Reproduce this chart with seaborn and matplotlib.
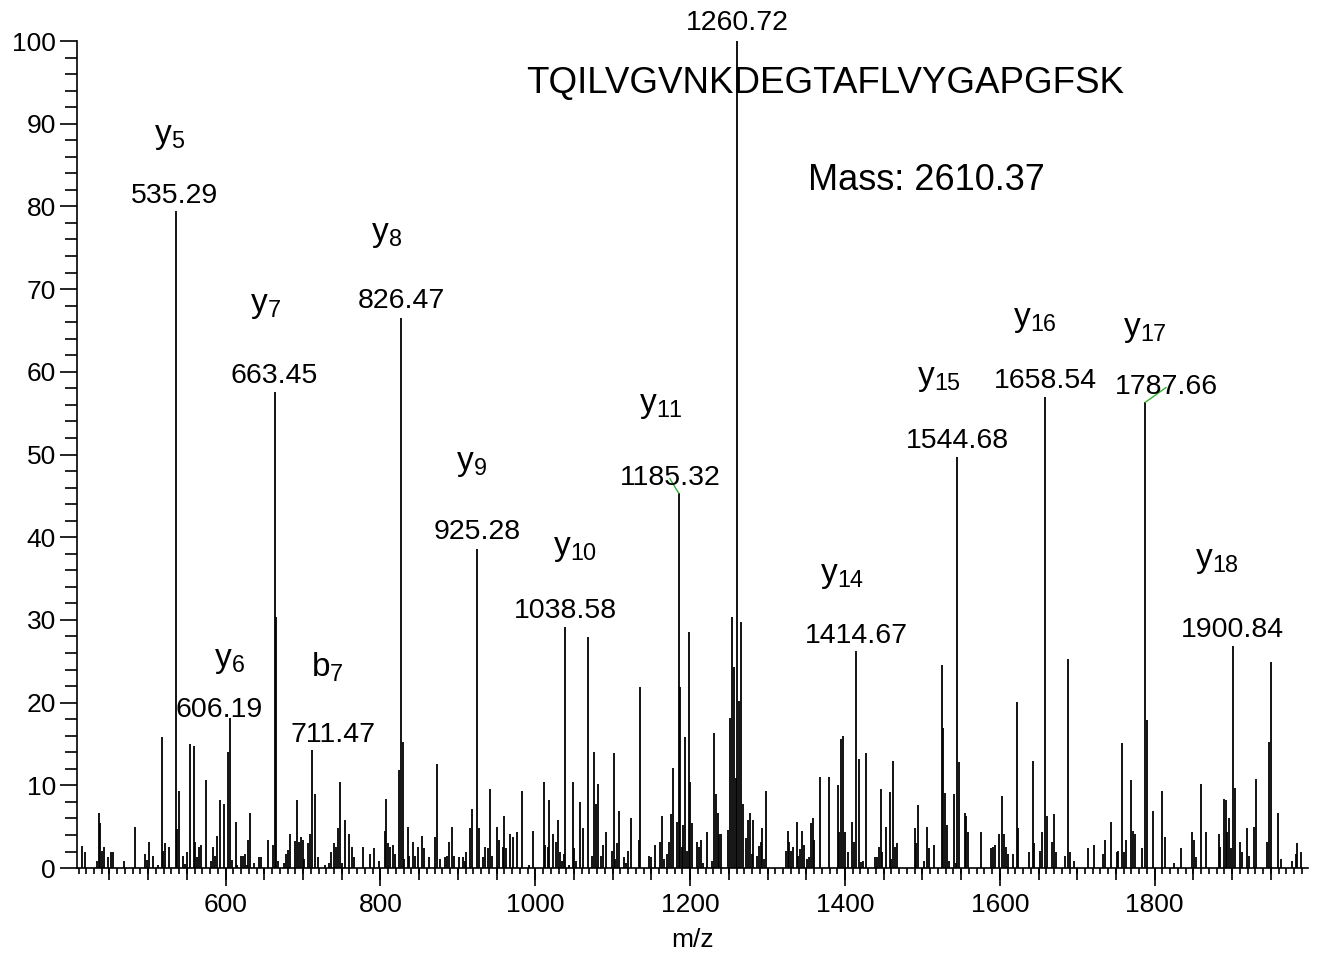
import numpy as np
import matplotlib
matplotlib.use("Agg")
import matplotlib.pyplot as plt
from matplotlib.ticker import MultipleLocator
import seaborn as sns

# === Peak list (m/z, relative intensity %) ===
mz = [
    414.9, 417.9, 433.4, 436.0, 438.1, 440.7, 443.3, 448.0, 452.3, 454.5,
    468.2, 482.5, 496.2, 498.4, 501.0, 505.7, 512.2, 517.3, 519.5, 521.6,
    526.4, 537.6, 540.2, 544.9, 547.0, 549.6, 553.9, 558.7, 560.4, 563.0,
    565.6, 567.7, 574.6, 581.5, 583.6, 586.2, 588.4, 593.1, 597.8, 603.6,
    608.4, 613.3, 615.3, 620.0, 622.3, 624.8, 627.0, 629.2, 631.8, 636.1,
    643.0, 645.6, 655.1, 660.9, 665.2, 667.8, 675.8,
    677.9, 680.5, 683.0, 690.0, 692.6, 694.7, 697.3, 699.5, 701.6, 706.3,
    708.5, 715.4, 719.7, 728.8, 733.5, 736.0, 740.4, 743.0, 745.1, 747.6,
    750.2, 754.6, 759.3, 763.6, 766.2, 777.9, 786.9, 791.6, 798.5, 805.4,
    807.6, 809.7, 812.2, 816.6, 819.2, 823.5, 828.6, 830.8, 835.1, 837.3,
    841.9, 844.1, 848.9, 853.6, 855.8, 862.6, 870.0, 872.6, 876.8, 883.8,
    885.9, 888.5, 892.8, 894.9, 901.9, 906.5, 908.7, 910.9, 915.6, 918.2,
    927.7, 932.0, 934.6, 938.8, 941.9,
    944.0, 951.0, 953.1, 957.8, 960.0, 962.6, 966.8, 971.1, 975.9, 983.3,
    992.3, 997.0, 1010.8, 1012.9, 1016.0, 1018.1, 1022.8, 1027.2, 1029.7, 1031.8,
    1034.4, 1036.6, 1043.4, 1048.2, 1050.4, 1053.0, 1057.3, 1062.0, 1068.5, 1073.7,
    1075.8, 1077.9, 1080.5, 1084.8, 1087.4, 1091.7, 1098.6, 1101.2, 1103.4, 1105.5,
    1108.0, 1115.0, 1117.1, 1119.7, 1124.1, 1133.5, 1135.6, 1147.3, 1149.4, 1154.2,
    1161.0, 1163.6, 1165.8, 1170.5, 1172.6, 1175.2, 1177.4, 1183.0, 1187.2, 1190.0,
    1191.2, 1193.3, 1195.9, 1198.1, 1200.3, 1202.8,
    1209.3, 1211.9, 1214.5, 1216.5, 1221.3, 1228.7, 1230.7, 1232.9, 1235.5, 1237.7,
    1240.3, 1249.3, 1251.9, 1254.0, 1256.2, 1258.8, 1263.5, 1265.6, 1267.8, 1272.6,
    1274.7, 1277.3, 1279.4, 1281.6, 1286.3, 1288.5, 1291.1, 1293.3, 1295.8, 1297.9,
    1323.4, 1326.0, 1328.1, 1330.7, 1332.8, 1337.6, 1339.8, 1342.3, 1344.4, 1346.6,
    1351.4, 1354.0, 1356.1, 1358.3, 1360.4, 1367.7, 1379.3, 1390.5, 1392.2, 1394.8,
    1397.4, 1399.6, 1404.4, 1409.0, 1411.2, 1417.8, 1420.2, 1422.8, 1427.6, 1438.7,
    1441.3, 1443.5, 1446.1, 1448.2, 1452.9, 1457.7, 1459.9, 1461.9, 1464.5, 1466.7,
    1490.0, 1492.2, 1494.7, 1501.6, 1506.4, 1508.5, 1515.4, 1524.9, 1527.0, 1529.6,
    1531.7, 1533.9, 1540.8, 1542.9, 1547.2, 1554.5, 1556.7, 1559.3, 1575.2, 1589.0,
    1591.1, 1593.7, 1598.5, 1603.2, 1605.4, 1607.5, 1610.1, 1617.0, 1621.7, 1623.9,
    1637.6, 1642.4, 1644.6, 1651.4, 1654.2, 1660.8, 1667.8, 1669.9, 1672.5, 1684.1,
    1688.5, 1691.1, 1695.8, 1714.3, 1721.2, 1732.8, 1735.4,
    1744.0, 1750.9, 1753.1, 1757.7, 1760.3, 1762.5, 1769.4, 1771.6, 1774.1, 1783.2,
    1790.2, 1797.4, 1809.1, 1813.8, 1825.5, 1834.5, 1848.2, 1850.4, 1853.0, 1859.9,
    1866.8, 1882.8, 1885.0, 1889.6, 1891.8, 1894.0, 1896.6, 1898.5, 1903.2, 1910.3,
    1912.5, 1919.3, 1921.9, 1928.9, 1931.0, 1944.8, 1947.0, 1949.6, 1959.0, 1963.3,
    1977.1, 1981.9, 1984.0, 1988.8,
]
intensity = [
    2.7, 1.9, 0.8, 6.6, 5.4, 2.1, 2.5, 1.3, 1.9, 1.9,
    0.85, 5.0, 1.7, 1.0, 3.2, 1.5, 0.4, 15.8, 2.1, 3.0,
    2.6, 4.7, 9.3, 1.5, 0.5, 1.9, 15.0, 14.7, 3.2, 1.3,
    2.6, 2.8, 10.6, 0.85, 2.6, 1.5, 3.9, 8.2, 7.8, 14.0,
    1.0, 5.6, 0.4, 1.5, 1.5, 1.7, 0.4, 3.4, 6.6, 0.6,
    1.3, 1.3, 3.4, 2.8, 30.3, 0.8, 0.6,
    1.7, 2.2, 4.1, 3.3, 8.2, 3.2, 3.7, 3.4, 1.1, 3.0,
    4.1, 8.9, 1.3, 0.4, 0.6, 1.9, 3.0, 2.5, 4.8, 10.4,
    0.6, 5.8, 4.1, 2.6, 1.3, 2.6, 1.7, 2.4, 0.85, 4.5,
    8.4, 3.0, 2.6, 2.8, 1.7, 11.9, 15.3, 1.1, 5.0, 1.5,
    3.2, 1.5, 2.6, 3.9, 2.4, 1.3, 3.7, 12.6, 1.1, 1.3,
    1.5, 3.2, 5.0, 1.5, 1.3, 1.3, 0.85, 1.9, 4.8, 7.1,
    4.8, 1.3, 2.6, 2.4, 9.6,
    1.5, 5.0, 3.4, 2.6, 6.3, 2.4, 4.1, 3.7, 4.4, 9.3,
    0.4, 4.5, 10.4, 2.8, 2.6, 8.2, 4.1, 3.2, 5.8, 1.9,
    0.85, 1.7, 0.4, 10.4, 2.4, 0.85, 8.0, 4.8, 27.9, 1.5,
    14.0, 7.8, 10.2, 1.5, 2.8, 4.3, 2.1, 13.9, 1.1, 3.0,
    6.9, 1.3, 0.6, 2.1, 6.0, 3.4, 21.9, 1.5, 1.3, 2.8,
    3.2, 6.3, 1.1, 1.7, 3.2, 6.5, 12.1, 5.6, 21.9, 2.6,
    5.2, 15.8, 2.1, 28.5, 10.4, 5.4,
    3.2, 2.6, 3.4, 0.6, 4.3, 0.8, 16.3, 8.9, 6.7, 4.1,
    4.1, 4.6, 18.1, 30.3, 24.3, 10.9, 20.2, 29.8, 7.8, 3.6,
    5.8, 6.7, 1.7, 5.8, 1.5, 2.7, 3.2, 4.8, 1.1, 9.3,
    2.1, 4.5, 3.2, 2.1, 2.6, 5.6, 1.5, 2.3, 4.5, 2.8,
    1.1, 1.3, 5.4, 6.0, 3.4, 11.0, 11.0, 10.0, 4.3, 15.6,
    16.0, 4.3, 1.9, 5.6, 3.2, 13.2, 0.7, 0.9, 13.9, 1.3,
    1.3, 2.6, 9.6, 1.9, 5.0, 9.2, 1.1, 13.0, 2.6, 3.0,
    4.8, 3.0, 7.6, 0.85, 5.0, 2.4, 2.8, 24.5, 16.9, 9.1,
    5.2, 0.85, 8.9, 0.6, 12.8, 6.7, 6.3, 4.3, 4.3, 2.4,
    2.6, 2.8, 4.1, 8.7, 4.1, 2.6, 1.7, 1.7, 20.1, 4.8,
    1.9, 13.0, 3.0, 2.1, 4.3, 6.3, 3.2, 6.5, 1.9, 1.5,
    25.3, 1.9, 0.85, 2.4, 2.8, 1.7, 3.4,
    5.6, 1.9, 2.1, 15.1, 1.9, 3.4, 10.6, 4.5, 4.1, 2.4,
    17.9, 6.9, 9.3, 3.7, 0.6, 2.4, 4.3, 3.4, 1.3, 10.2,
    4.3, 4.1, 2.6, 8.4, 8.2, 4.3, 6.0, 2.4, 9.7, 3.2,
    1.9, 4.8, 1.5, 5.0, 10.8, 3.2, 15.3, 24.9, 6.7, 1.1,
    0.85, 1.7, 3.0, 1.9,
]

# annotated fragment ions
ion_mz = [535.29, 606.19, 663.45, 711.47, 826.47, 925.28, 1038.58,
          1185.32, 1260.72, 1414.67, 1544.68, 1658.54, 1787.66, 1900.84]
ion_int = [79.4, 18.1, 57.5, 14.3, 66.5, 38.6, 29.2,
           45.3, 100.0, 26.2, 49.7, 57.0, 56.3, 26.8]
ion_names = ["y5", "y6", "y7", "b7", "y8", "y9", "y10",
             "y11", "", "y14", "y15", "y16", "y17", "y18"]

peptide = "TQILVGVNKDEGTAFLVYGAPGFSK"
mass_text = "Mass: 2610.37"

# label placement in pixels: (dx, dy) for number, (dx, dy) for ion name
num_off = [(-1, 8), (-11, 1), (-1, 9), (21, 8), (0, 10), (0, 10), (0, 9),
           (-9, 8), (0, 11), (0, 8), (0, 9), (0, 9), (21, 8), (0, 9)]
ion_off = [(-6, 68), (-1, 51), (-9, 80), (15, 73), (-14, 77), (-6, 79), (10, 72),
           (-18, 81), (0, 0), (-14, 69), (-18, 72), (-10, 71), (0, 66), (-16, 79)]
leader = [False] * 7 + [True] + [False] * 4 + [True, False]

# === Style ===
sns.set_style("ticks")
plt.rcParams["font.family"] = ["Liberation Sans", "DejaVu Sans"]
plt.rcParams["mathtext.default"] = "regular"
for key in ["text.color", "axes.labelcolor", "xtick.color", "ytick.color", "axes.edgecolor"]:
    plt.rcParams[key] = "black"

fig = plt.figure(figsize=(13.2, 9.58), dpi=100)
ax = fig.add_axes([0.0583, 0.0939, 0.9326, 0.8633])

all_mz = np.array(mz + ion_mz)
all_int = np.array(intensity + ion_int)
ax.vlines(all_mz, 0, all_int, color="black", lw=1.3)

ax.set_xlim(408, 1998)
ax.set_ylim(0, 100)

sns.despine(ax=ax)
for s in ["left", "bottom"]:
    ax.spines[s].set_linewidth(1.2)

ax.xaxis.set_major_locator(MultipleLocator(200))
ax.xaxis.set_minor_locator(MultipleLocator(10))
ax.yaxis.set_major_locator(MultipleLocator(10))
ax.yaxis.set_minor_locator(MultipleLocator(2))
ax.tick_params(axis="x", which="major", length=13, width=1.2, labelsize=19, pad=5)
ax.tick_params(axis="x", which="minor", length=4, width=1.2)
ax.tick_params(axis="y", which="major", length=12, width=1.2, labelsize=19, pad=3)
ax.tick_params(axis="y", which="minor", length=8.4, width=1.2)

# medium ticks every 50
sec = ax.secondary_xaxis("bottom")
sec.set_xticks(np.arange(450, 2000, 50))
sec.tick_params(length=8.4, width=1.2, labelbottom=False)
sec.spines["bottom"].set_visible(False)

ax.set_xlabel("m/z", fontsize=19, labelpad=8)

# === Annotations ===
for i in range(len(ion_mz)):
    x, y = ion_mz[i], ion_int[i]
    dx, dy = num_off[i]
    arrow = dict(arrowstyle="-", color="#2db32d", lw=1.0, shrinkA=0, shrinkB=0) if leader[i] else None
    ax.annotate(f"{x:.2f}", xy=(x, y), xytext=(dx, dy), textcoords="offset pixels",
                ha="center", va="baseline", fontsize=20.5, arrowprops=arrow,
                annotation_clip=False)
    name = ion_names[i]
    if name:
        lab = r"$\mathdefault{" + name[0] + "_{" + name[1:] + "}}$"
        idx, idy = ion_off[i]
        ax.annotate(lab, xy=(x, y), xytext=(idx, idy), textcoords="offset pixels",
                    ha="center", va="baseline", fontsize=24, annotation_clip=False)

fig.text(825 / 1320, 1 - 83 / 958, peptide, ha="center", va="center", fontsize=26.5)
fig.text(926 / 1320, 1 - 180 / 958, mass_text, ha="center", va="center", fontsize=26)

fig.savefig("out.png", dpi=100)
